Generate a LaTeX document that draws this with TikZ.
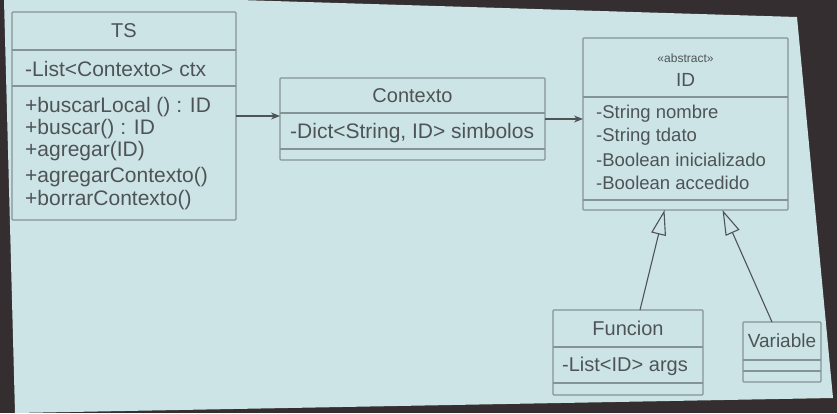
\documentclass[tikz,border=0pt]{standalone}
\usepackage{fontspec}
\setmainfont{Liberation Sans}
\usetikzlibrary{arrows.meta}
\definecolor{frame}{RGB}{52,46,48}
\definecolor{screen}{RGB}{204,228,229}
\definecolor{boxgray}{RGB}{132,148,150}
\definecolor{txtgray}{RGB}{78,84,86}
\newcommand\umlsize[1]{\fontsize{#1}{#1}\selectfont}
\tikzset{
  cls/.style={draw=boxgray, line width=1.2pt, inner sep=0pt, outer sep=0pt, rounded corners=1pt},
  sep/.style={draw=boxgray, line width=1.2pt},
  attr/.style={anchor=west, inner sep=0pt, text=txtgray},
  title/.style={inner sep=0pt, text=txtgray},
  assoc/.style={draw=txtgray, line width=1.1pt, -{Stealth[length=9pt,width=7pt]}},
  inherit/.style={draw=txtgray, line width=1.1pt, -{Triangle[open,length=25pt,width=15pt,fill=screen]}}
}
\begin{document}
\begin{tikzpicture}[x=1pt,y=-1pt]
  \useasboundingbox (0,0) rectangle (837,413);
  \fill[frame] (0,0) rectangle (837,413);
  \fill[screen] (4,0) -- (240,0) -- (797,17) -- (833,398) -- (15,413) -- cycle;

  % TS
  \node[cls, minimum width=224, minimum height=208] (ts) at (124,116) {};
  \draw[sep] (ts.west |- 0,50) -- (ts.east |- 0,50);
  \draw[sep] (ts.west |- 0,86) -- (ts.east |- 0,86);
  \node[title, font=\umlsize{20}] (tsname) at (124,31) {TS};
  \node[attr, font=\umlsize{21}] (tsctx) at (25,69) {-List<Contexto> ctx};
  \node[attr, font=\umlsize{21}] (tsm1) at (25,107) {+buscarLocal () : ID};
  \node[attr, font=\umlsize{21}] (tsm2) at (25,129) {+buscar() : ID};
  \node[attr, font=\umlsize{21}] (tsm3) at (25,151) {+agregar(ID)};
  \node[attr, font=\umlsize{21}] (tsm4) at (25,177) {+agregarContexto()};
  \node[attr, font=\umlsize{21}] (tsm5) at (25,200) {+borrarContexto()};

  % Contexto
  \node[cls, minimum width=265, minimum height=82] (ctx) at (412.5,119) {};
  \draw[sep] (ctx.west |- 0,113) -- (ctx.east |- 0,113);
  \draw[sep] (ctx.west |- 0,149) -- (ctx.east |- 0,149);
  \node[title, font=\umlsize{20}] (ctxname) at (412.5,96) {Contexto};
  \node[attr, font=\umlsize{21}] (ctxsim) at (290,133) {-Dict<String, ID> simbolos};

  % ID
  \node[cls, minimum width=205, minimum height=172] (id) at (685.5,124) {};
  \draw[sep] (id.west |- 0,97) -- (id.east |- 0,97);
  \draw[sep] (id.west |- 0,200) -- (id.east |- 0,200);
  \node[title, font=\umlsize{12}] (idster) at (685.5,58) {«abstract»};
  \node[title, font=\umlsize{19}] (idname) at (685.5,80) {ID};
  \node[attr, font=\umlsize{18.5}] (idnom) at (596,114) {-String nombre};
  \node[attr, font=\umlsize{18.5}] (idtd) at (596,137) {-String tdato};
  \node[attr, font=\umlsize{18.5}] (idini) at (596,160) {-Boolean inicializado};
  \node[attr, font=\umlsize{18.5}] (idacc) at (596,183) {-Boolean accedido};

  % Funcion
  \node[cls, minimum width=150, minimum height=85] (fun) at (628,352.5) {};
  \draw[sep] (fun.west |- 0,347) -- (fun.east |- 0,347);
  \draw[sep] (fun.west |- 0,383) -- (fun.east |- 0,383);
  \node[title, font=\umlsize{20}] (funname) at (628,328) {Funcion};
  \node[attr, font=\umlsize{20}] (funargs) at (562,366) {-List<ID> args};

  % Variable
  \node[cls, minimum width=78, minimum height=60] (var) at (782,352) {};
  \draw[sep] (var.west |- 0,360) -- (var.east |- 0,360);
  \draw[sep] (var.west |- 0,371) -- (var.east |- 0,371);
  \node[title, font=\umlsize{19}] (varname) at (782,341) {Variable};

  \draw[assoc] (ts.east) -- (ctx.west |- ts.east);
  \draw[assoc] (ctx.east) -- (id.west |- ctx.east);
  \draw[inherit] ([xshift=12pt]fun.north) -- ([xshift=-21pt]id.south);
  \draw[inherit] ([xshift=-10pt]var.north) -- ([xshift=37pt]id.south);
\end{tikzpicture}
\end{document}
